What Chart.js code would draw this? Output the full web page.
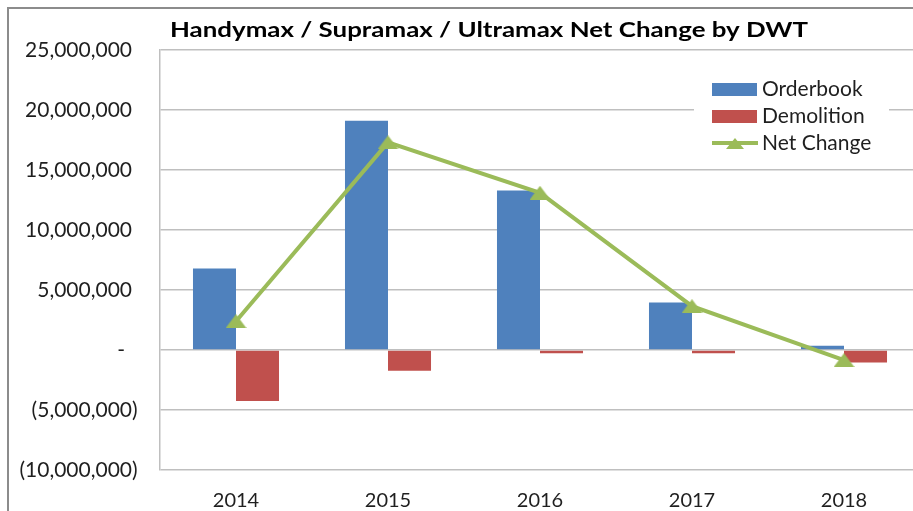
<!DOCTYPE html>
<html lang="en">
<head>
<meta charset="UTF-8">
<title>Net Change by DWT</title>
<style>
    body { margin: 0; overflow: hidden; background: #fff; }
    #grafico { display: block; }
</style>
</head>
<body>
<canvas id="grafico" width="920" height="511"></canvas>
<script src="https://cdn.jsdelivr.net/npm/chart.js"></script>
<script>
    const anos = ['2014', '2015', '2016', '2017', '2018'];
    const orderbook = [6800000, 19100000, 13300000, 3950000, 350000];
    const demolition = [-4250000, -1720000, -280000, -280000, -1050000];
    const netChange = [2400000, 17300000, 13100000, 3650000, -850000];
    const ticksY = [-10000000, -5000000, 0, 5000000, 10000000, 15000000, 20000000, 25000000];
    const titulo = 'Handymax / Supramax / Ultramax Net Change by DWT';

    const fonte = 'Lato, "Open Sans", sans-serif';
    const corTexto = '#1F1F1F';

    // flat triangle like the excel marker
    function triangulo(w, h) {
        var c = document.createElement('canvas');
        c.width = w; c.height = h;
        var g = c.getContext('2d');
        g.fillStyle = '#9BBB59';
        g.beginPath();
        g.moveTo(w / 2, 0); g.lineTo(w, h); g.lineTo(0, h);
        g.closePath(); g.fill();
        return c;
    }

    // text stretched sideways to a given width (the original picture is stretched)
    function textoLargo(ctx, txt, x, y, largura) {
        var k = largura / ctx.measureText(txt).width;
        ctx.save();
        ctx.translate(x, y);
        ctx.scale(k, 1);
        ctx.fillText(txt, 0, 0);
        ctx.restore();
    }

    const extras = {
        id: 'extras',
        beforeDraw(chart) {
            const ctx = chart.ctx;
            ctx.save();
            ctx.fillStyle = '#fff';
            ctx.fillRect(0, 0, chart.width, chart.height);
            ctx.strokeStyle = '#8C8C8C';
            ctx.lineWidth = 2;
            ctx.beginPath();
            ctx.moveTo(8, chart.height); ctx.lineTo(8, 8); ctx.lineTo(chart.width, 8);
            ctx.stroke();
            ctx.restore();
        },
        afterDraw(chart) {
            const ctx = chart.ctx, y = chart.scales.y;
            ctx.save();
            ctx.fillStyle = '#000';
            ctx.font = 'bold 20px ' + fonte;
            ctx.textAlign = 'center';
            ctx.textBaseline = 'middle';
            textoLargo(ctx, titulo, 489, 31, 638);

            // y labels, accounting style
            ctx.font = '21px ' + fonte;
            ctx.fillStyle = corTexto;
            y.ticks.forEach(function (t) {
                var v = t.value, py = y.getPixelForValue(v);
                var s = Math.abs(v).toLocaleString('en-US');
                ctx.textAlign = 'right';
                if (v == 0) {
                    ctx.fillText('-', 125, py);
                } else if (v < 0) {
                    ctx.fillText('(' + s, 132, py);
                    ctx.textAlign = 'left';
                    ctx.fillText(')', 132, py);
                } else {
                    ctx.fillText(s, 132, py);
                }
            });

            // legend
            ctx.fillStyle = '#fff';
            ctx.fillRect(694, 74, 195, 84);
            ctx.font = '21px ' + fonte;
            const ds = chart.data.datasets;
            const linhas = [89, 116, 143];
            ds.forEach(function (d, i) {
                var ly = linhas[i];
                if (d.type == 'line') {
                    ctx.strokeStyle = d.borderColor;
                    ctx.lineWidth = 4;
                    ctx.beginPath(); ctx.moveTo(712, ly); ctx.lineTo(758, ly); ctx.stroke();
                    ctx.drawImage(triangulo(18, 11), 726, ly - 5);
                } else {
                    ctx.fillStyle = d.backgroundColor;
                    ctx.fillRect(712, ly - 6, 45, 13);
                }
                ctx.fillStyle = corTexto;
                ctx.textAlign = 'left';
                ctx.fillText(d.label, 762, ly);
            });
            ctx.restore();
        }
    };

    var grafico = new Chart(document.getElementById('grafico'), {
        type: 'bar',
        data: {
            labels: anos,
            datasets: [{
                label: 'Orderbook',
                data: orderbook,
                backgroundColor: '#4F81BD',
                order: 1
            }, {
                label: 'Demolition',
                data: demolition,
                backgroundColor: '#C0504D',
                order: 2
            }, {
                type: 'line',
                label: 'Net Change',
                data: netChange,
                borderColor: '#9BBB59',
                borderWidth: 4,
                pointStyle: triangulo(21, 14),
                pointRadius: 10,
                tension: 0,
                order: 0
            }]
        },
        options: {
            responsive: false,
            animation: false,
            layout: { autoPadding: false, padding: { top: 50, left: 0, right: 0, bottom: 0 } },
            datasets: {
                bar: { categoryPercentage: 0.566, barPercentage: 1 }
            },
            scales: {
                x: {
                    grid: { display: false },
                    border: { display: false },
                    ticks: { font: { family: fonte, size: 20 }, color: corTexto, padding: 11 },
                    afterFit: function (s) { s.height = 41; }
                },
                y: {
                    min: -10000000,
                    max: 25000000,
                    afterBuildTicks: function (s) { s.ticks = ticksY.map(function (v) { return { value: v }; }); },
                    ticks: { display: false },
                    grid: { color: '#BFBFBF', lineWidth: 1.5, drawTicks: false },
                    border: { color: '#BFBFBF', width: 1.5 },
                    afterFit: function (s) { s.width = 160; }
                }
            },
            plugins: {
                legend: { display: false },
                tooltip: { enabled: false }
            }
        },
        plugins: [extras]
    });
</script>
</body>
</html>
